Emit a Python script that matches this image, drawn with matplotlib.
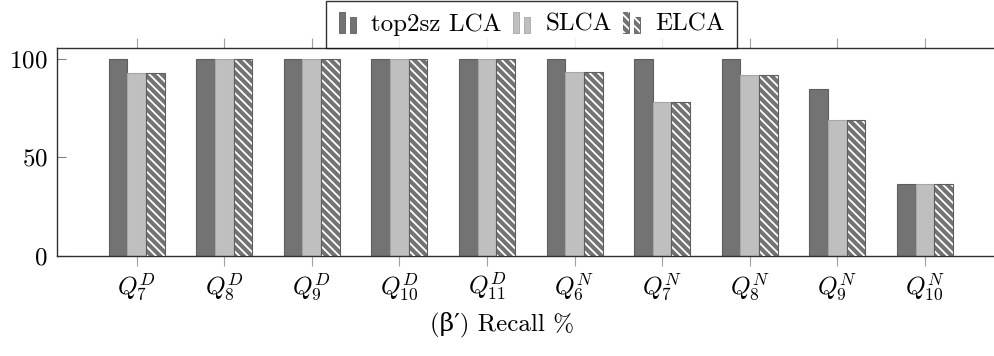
import matplotlib
matplotlib.use('Agg')
import matplotlib.pyplot as plt
from matplotlib.legend_handler import HandlerBase
from matplotlib.patches import Rectangle
import numpy as np

plt.rcParams['font.family'] = ['cmr10', 'DejaVu Serif']
plt.rcParams['mathtext.fontset'] = 'cm'
plt.rcParams['axes.formatter.use_mathtext'] = True
plt.rcParams['hatch.linewidth'] = 1.3

queries = ['$Q_{7}^{D}$', '$Q_{8}^{D}$', '$Q_{9}^{D}$', '$Q_{10}^{D}$', '$Q_{11}^{D}$',
           '$Q_{6}^{N}$', '$Q_{7}^{N}$', '$Q_{8}^{N}$', '$Q_{9}^{N}$', '$Q_{10}^{N}$']
top2sz = [100, 100, 100, 100, 100, 100, 100, 100, 84.6, 36.7]
slca = [92.6, 100, 100, 100, 100, 93.2, 77.9, 91.6, 69.1, 36.7]
elca = [92.6, 100, 100, 100, 100, 93.2, 77.9, 91.6, 69.1, 36.7]

dark = '#737373'
light = '#bfbfbf'
edge_dark = '#5e5e5e'
edge_light = '#a6a6a6'

fig = plt.figure(figsize=(9.95, 3.56), dpi=100)
ax = fig.add_axes([57.3 / 995, 100 / 356, 937.7 / 995, 207.7 / 356])

x = np.arange(len(queries))
w = 0.213

ax.bar(x - w, top2sz, w, color=dark, edgecolor=edge_dark, linewidth=0.8, zorder=2)
ax.bar(x, slca, w, color=light, edgecolor=edge_light, linewidth=0.8, zorder=2)
ax.bar(x + w, elca, w, color=dark, linewidth=0, zorder=2)
ax.bar(x + w, elca, w, facecolor='none', edgecolor='white', hatch='\\\\\\\\', linewidth=0, zorder=3)
ax.bar(x + w, elca, w, facecolor='none', edgecolor=edge_dark, linewidth=0.8, zorder=4)

ax.set_xlim(-0.906, 9.80)
ax.set_ylim(0, 105.2)
ax.set_xticks(x)
ax.set_xticklabels(queries, fontsize=18)
ax.set_yticks([0, 50, 100])
ax.tick_params(axis='y', direction='in', length=6.5, width=0.8, color='#808080',
               labelsize=18, pad=7)
ax.tick_params(axis='x', direction='out', length=7, width=0.8, color='#a0a0a0',
               top=True, pad=4)
ax.spines['right'].set_visible(False)
for s in ['left', 'bottom', 'top']:
    ax.spines[s].set_color('#303030')
    ax.spines[s].set_linewidth(1.0)

fig.text(502 / 995, 0.09, "(β′) Recall %", ha='center', va='center', fontsize=18)


class TwoBars(HandlerBase):
    def __init__(self, fc, ec, hatch=None):
        super().__init__()
        self.fc = fc
        self.ec = ec
        self.hatch = hatch

    def create_artists(self, legend, orig_handle, xdescent, ydescent, width, height,
                       fontsize, trans):
        bw = width * 0.3
        arts = []
        for x0, h in [(0, height * 1.25), (width * 0.55, height * 0.95)]:
            r = Rectangle((x0 - xdescent, -ydescent - height * 0.15), bw, h,
                          facecolor=self.fc, edgecolor=self.ec, linewidth=0.6,
                          transform=trans)
            arts.append(r)
            if self.hatch:
                hr = Rectangle((x0 - xdescent, -ydescent - height * 0.15), bw, h,
                               facecolor='none', edgecolor='white', hatch=self.hatch,
                               linewidth=0, transform=trans)
                arts.append(hr)
        return arts


h1, h2, h3 = object(), object(), object()
leg = ax.legend([h1, h2, h3], ['top2sz LCA', 'SLCA', 'ELCA'],
                handler_map={h1: TwoBars(dark, edge_dark),
                             h2: TwoBars(light, edge_light),
                             h3: TwoBars(dark, edge_dark, '\\\\\\\\')},
                loc='lower center', bbox_to_anchor=(0.506, 1.0), ncol=3,
                fontsize=18, frameon=True, fancybox=False, edgecolor='black',
                handlelength=0.8, handletextpad=0.5, columnspacing=0.45,
                borderpad=0.5, borderaxespad=0)
leg.get_frame().set_linewidth(1.0)
leg.set_zorder(10)

fig.savefig('out.png', dpi=100)
